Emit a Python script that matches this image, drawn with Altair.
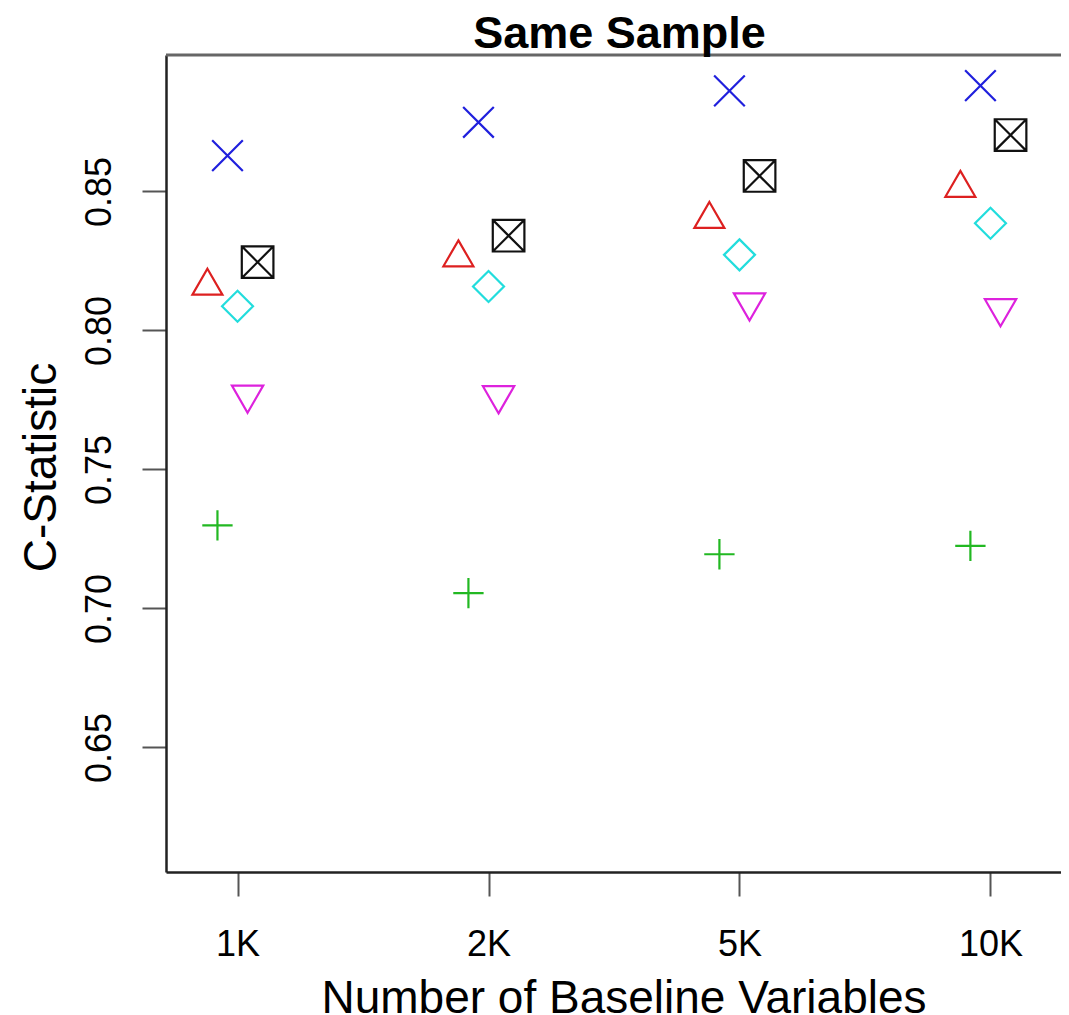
import altair as alt
import pandas as pd

# ---- data ----
categories = ["1K", "2K", "5K", "10K"]
series = ["Red triangle", "Green plus", "Blue cross", "Cyan diamond", "Magenta triangle", "Black boxed cross"]
red_triangle = [0.8160, 0.8262, 0.8400, 0.8512]
green_plus = [0.7299, 0.7055, 0.7195, 0.7225]
blue_cross = [0.8629, 0.8749, 0.8862, 0.8881]
cyan_diamond = [0.8087, 0.8158, 0.8272, 0.8386]
magenta_triangle = [0.7769, 0.7767, 0.8101, 0.8080]
black_boxed_cross = [0.8246, 0.8341, 0.8556, 0.8703]

values = [red_triangle, green_plus, blue_cross, cyan_diamond, magenta_triangle, black_boxed_cross]

# ---- styling ----
colors = ["#DD2020", "#22B822", "#2020DD", "#22DDDD", "#DD22DD", "#111111"]
shapes = [
    "M0,-1.155L1,0.577L-1,0.577Z",
    "M-1,0L1,0M0,-1L0,1",
    "M-1,-1L1,1M-1,1L1,-1",
    "M0,-1L1,0L0,1L-1,0Z",
    "M0,1.155L1,-0.577L-1,-0.577Z",
    "M-1,-1L1,-1L1,1L-1,1ZM-1,-1L1,1M-1,1L1,-1",
]
sizes = [900, 1000, 650, 1089, 900, 576]
DODGE = 0.04

rows = []
for j, (name, vals) in enumerate(zip(series, values)):
    for i, (cat, v) in enumerate(zip(categories, vals)):
        rows.append({"series": name, "category": cat, "pos": i + 1 + (j - 3) * DODGE, "value": v})
df = pd.DataFrame(rows)

FONT = "Liberation Sans, Arial, Helvetica, sans-serif"
W, H = 895, 817
X_DOM = [0.715, 4.281]
Y_DOM = [0.6052, 0.8991]

label_expr = "[" + ",".join("'%s'" % c for c in categories) + "][datum.value - 1]"

points = alt.Chart(df).mark_point(filled=False, strokeWidth=2.2, opacity=1).encode(
    x=alt.X(
        "pos:Q",
        scale=alt.Scale(domain=X_DOM, nice=False, zero=False),
        axis=alt.Axis(
            values=[1, 2, 3, 4],
            labelExpr=label_expr,
            title="Number of Baseline Variables",
            grid=False,
            tickSize=24,
            tickWidth=2,
            tickColor="#555555",
            domainColor="#222222",
            domainWidth=2.5,
            labelFont=FONT,
            labelFontSize=36,
            labelColor="black",
            labelBaseline="alphabetic",
            labelPadding=59,
            labelOverlap=False,
            titleFont=FONT,
            titleFontSize=46,
            titleFontWeight="normal",
            titleColor="black",
            titleX=457.5,
            titleY=140,
            titleAlign="center",
            titleBaseline="alphabetic",
        ),
    ),
    y=alt.Y(
        "value:Q",
        scale=alt.Scale(domain=Y_DOM, nice=False, zero=False),
        axis=alt.Axis(
            values=[0.65, 0.70, 0.75, 0.80, 0.85],
            format=".2f",
            title="C-Statistic",
            grid=False,
            tickSize=24,
            tickWidth=2,
            tickColor="#555555",
            domainColor="#222222",
            domainWidth=2.5,
            labelFont=FONT,
            labelFontSize=36,
            labelColor="black",
            labelAngle=270,
            labelAlign="center",
            labelBaseline="alphabetic",
            labelPadding=32,
            labelOverlap=False,
            titleFont=FONT,
            titleFontSize=46,
            titleFontWeight="normal",
            titleColor="black",
            titleAngle=270,
            titleX=-111,
            titleY=412,
            titleAlign="center",
            titleBaseline="alphabetic",
        ),
    ),
    color=alt.Color("series:N", scale=alt.Scale(domain=series, range=colors), legend=None),
    shape=alt.Shape("series:N", scale=alt.Scale(domain=series, range=shapes), legend=None),
    size=alt.Size("series:N", scale=alt.Scale(domain=series, range=sizes), legend=None),
)

top_line = alt.Chart(pd.DataFrame({"a": [0]})).mark_rule(color="#666666", strokeWidth=3).encode(
    y=alt.value(0)
)

chart = alt.layer(points, top_line).properties(
    width=W,
    height=H,
    autosize=alt.AutoSizeParams(type="none"),
    padding={"left": 158, "top": 47, "right": 0, "bottom": 143},
    title=alt.TitleParams(
        "Same Sample",
        font=FONT,
        fontSize=45,
        fontWeight="bold",
        color="black",
        anchor="middle",
        frame="group",
        baseline="alphabetic",
        offset=8,
        dx=6,
        dy=47,
    ),
).configure_view(stroke="transparent").configure(background="white")

chart.save("out.html", embed_options={"renderer": "svg", "actions": False})
